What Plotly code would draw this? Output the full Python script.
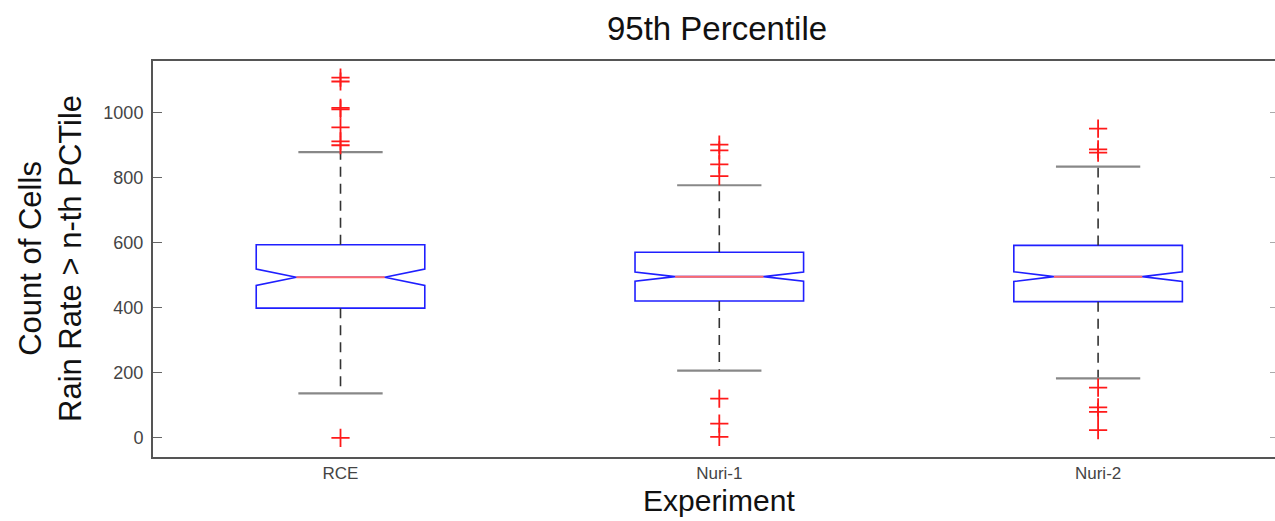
import plotly.graph_objects as go

# ---- data ----
categories = ["RCE", "Nuri-1", "Nuri-2"]
positions = [1, 2, 3]
q1 = [399, 421, 419]
median = [494, 496, 496]
q3 = [594, 571, 592]
lower_whisker = [137, 207, 183]
upper_whisker = [879, 777, 834]
notch_span = [25, 14, 15]
outliers_rce = [1108, 1096, 1015, 1010, 955, 912, 900, 0]
outliers_nuri1 = [902, 884, 841, 805, 121, 44, 3]
outliers_nuri2 = [951, 887, 877, 155, 94, 80, 24]
outliers = [outliers_rce, outliers_nuri1, outliers_nuri2]
y_ticks = [0, 200, 400, 600, 800, 1000]

# ---- styles ----
BOX_W = 0.445
NOTCH_W = 0.238
CAP_HALF = BOX_W / 4
FONT = "Liberation Sans, Arial, sans-serif"
Y_RANGE = [-58.6, 1159]

fig = go.Figure()

for i, pos in enumerate(positions):
    fig.add_trace(go.Box(
        x=[pos], q1=[q1[i]], median=[median[i]], q3=[q3[i]],
        lowerfence=[q1[i]], upperfence=[q3[i]], notchspan=[notch_span[i]],
        notched=True, notchwidth=NOTCH_W, width=BOX_W, whiskerwidth=0,
        line=dict(color="#1f1fff", width=1.6), fillcolor="rgba(0,0,0,0)",
        boxpoints=False, showlegend=False, hoverinfo="skip",
    ))
    # dashed whiskers
    fig.add_trace(go.Scatter(
        x=[pos, pos, None, pos, pos],
        y=[q3[i], upper_whisker[i], None, q1[i], lower_whisker[i]],
        mode="lines", line=dict(color="#333333", width=1.6, dash="10px,7px"),
        showlegend=False, hoverinfo="skip",
    ))
    # whisker caps
    fig.add_trace(go.Scatter(
        x=[pos - CAP_HALF, pos + CAP_HALF, None, pos - CAP_HALF, pos + CAP_HALF],
        y=[upper_whisker[i], upper_whisker[i], None, lower_whisker[i], lower_whisker[i]],
        mode="lines", line=dict(color="#888888", width=2.2),
        showlegend=False, hoverinfo="skip",
    ))
    # median line (red)
    half_inner = BOX_W / 2 * (1 - 2 * NOTCH_W)
    fig.add_trace(go.Scatter(
        x=[pos - half_inner, pos + half_inner], y=[median[i], median[i]],
        mode="lines", line=dict(color="#ff6a6a", width=2),
        showlegend=False, hoverinfo="skip",
    ))
    # outliers
    fig.add_trace(go.Scatter(
        x=[pos] * len(outliers[i]), y=outliers[i], mode="markers",
        marker=dict(symbol="cross-thin", size=13, line=dict(color="#ff1a1a", width=1.8)),
        showlegend=False, hoverinfo="skip",
    ))

# invisible trace to carry the right-hand tick axis
fig.add_trace(go.Scatter(x=[positions[0]], y=[median[0]], yaxis="y2", mode="markers",
                         marker=dict(opacity=0), showlegend=False, hoverinfo="skip"))

fig.update_layout(
    width=1275, height=521,
    margin=dict(l=153, r=0, t=61, b=64),
    paper_bgcolor="white", plot_bgcolor="white",
    font=dict(family=FONT, color="#333333"),
    title=dict(text="95th Percentile", x=717 / 1275, xanchor="center",
               y=1 - 28 / 521, yanchor="middle",
               font=dict(size=33, color="#111111", family=FONT)),
    xaxis=dict(range=[0.505, 3.467], tickvals=positions, ticktext=categories,
               showgrid=False, zeroline=False, showline=True, linecolor="#555555",
               linewidth=2, mirror=True, ticks="", tickfont=dict(size=17, color="#444444")),
    yaxis=dict(range=Y_RANGE, tickvals=y_ticks, showgrid=False, zeroline=False,
               showline=True, linecolor="#555555", linewidth=2, mirror=False,
               ticks="inside", ticklen=9, tickcolor="#666666", ticklabelstandoff=4,
               tickfont=dict(size=18, color="#444444")),
    yaxis2=dict(range=Y_RANGE, tickvals=y_ticks, overlaying="y", side="right",
                showgrid=False, zeroline=False, showline=False, showticklabels=False,
                ticks="inside", ticklen=5, tickcolor="#aaaaaa"),
    annotations=[
        dict(text="Count of Cells<br>Rain Rate &gt; n-th PCTile", xref="paper", yref="paper",
             x=(50 - 153) / 1122, y=0.5, xanchor="center", yanchor="middle",
             textangle=-90, showarrow=False,
             font=dict(size=31, color="#111111", family=FONT)),
        dict(text="Experiment", xref="x", yref="paper", x=2, y=(457 - 500) / 396,
             xanchor="center", yanchor="middle", showarrow=False,
             font=dict(size=30, color="#111111", family=FONT)),
    ],
)

fig.write_html("out.html")
